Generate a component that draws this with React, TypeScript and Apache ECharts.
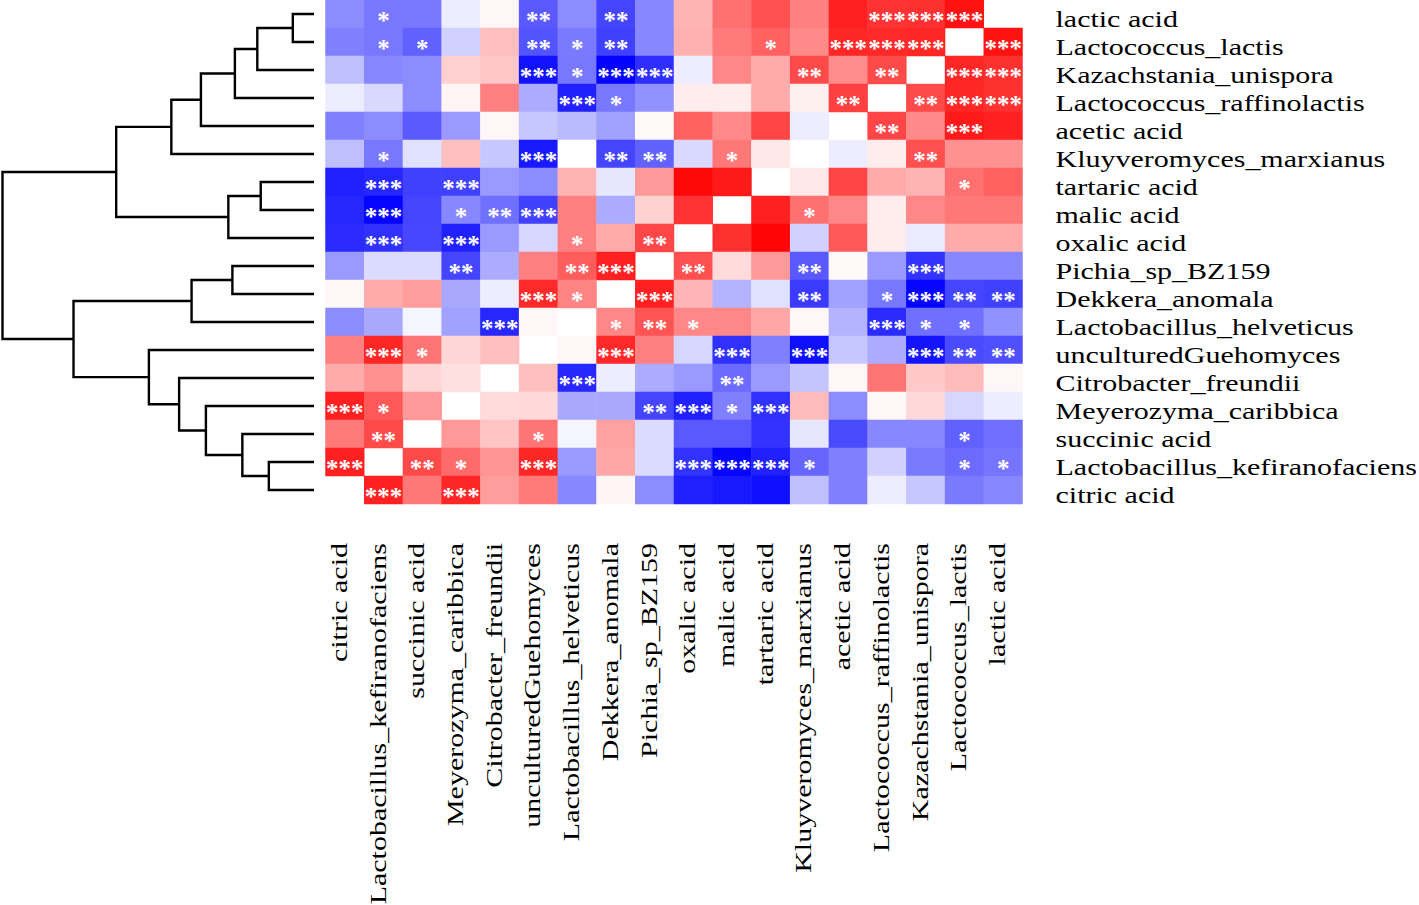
import React, { useEffect, useRef } from "react";
import * as echarts from "echarts";

const rowLabels = [
  "lactic acid",
  "Lactococcus_lactis",
  "Kazachstania_unispora",
  "Lactococcus_raffinolactis",
  "acetic acid",
  "Kluyveromyces_marxianus",
  "tartaric acid",
  "malic acid",
  "oxalic acid",
  "Pichia_sp_BZ159",
  "Dekkera_anomala",
  "Lactobacillus_helveticus",
  "unculturedGuehomyces",
  "Citrobacter_freundii",
  "Meyerozyma_caribbica",
  "succinic acid",
  "Lactobacillus_kefiranofaciens",
  "citric acid",
];

const colLabels = [
  "citric acid",
  "Lactobacillus_kefiranofaciens",
  "succinic acid",
  "Meyerozyma_caribbica",
  "Citrobacter_freundii",
  "unculturedGuehomyces",
  "Lactobacillus_helveticus",
  "Dekkera_anomala",
  "Pichia_sp_BZ159",
  "oxalic acid",
  "malic acid",
  "tartaric acid",
  "Kluyveromyces_marxianus",
  "acetic acid",
  "Lactococcus_raffinolactis",
  "Kazachstania_unispora",
  "Lactococcus_lactis",
  "lactic acid",
];

// correlation values, one array per row (null = diagonal, left blank)
const corr: (number | null)[][] = [
  [-0.45, -0.53, -0.53, -0.07, 0.03, -0.65, -0.45, -0.73, -0.47, 0.30, 0.56, 0.69, 0.50, 0.87, 0.80, 0.81, 0.93, null],
  [-0.50, -0.53, -0.62, -0.18, 0.25, -0.67, -0.52, -0.75, -0.47, 0.31, 0.52, 0.62, 0.46, 0.85, 0.84, 0.85, null, 0.93],
  [-0.25, -0.47, -0.45, 0.18, 0.22, -0.93, -0.53, -0.99, -0.82, -0.07, 0.47, 0.33, 0.71, 0.45, 0.71, null, 0.85, 0.81],
  [-0.07, -0.15, -0.45, 0.04, 0.50, -0.33, -0.87, -0.53, -0.43, 0.07, 0.07, 0.33, 0.06, 0.75, null, 0.71, 0.85, 0.81],
  [-0.50, -0.45, -0.65, -0.40, 0.03, -0.22, -0.27, -0.37, 0.02, 0.62, 0.46, 0.73, -0.07, null, 0.73, 0.46, 0.90, 0.87],
  [-0.25, -0.53, -0.12, 0.25, -0.22, -0.90, 0.00, -0.73, -0.62, -0.15, 0.53, 0.09, null, -0.07, 0.07, 0.69, 0.43, 0.43],
  [-0.88, -0.85, -0.75, -0.75, -0.40, -0.45, 0.30, -0.10, 0.40, 0.97, 0.90, null, 0.09, 0.73, 0.33, 0.30, 0.56, 0.62],
  [-0.85, -0.98, -0.73, -0.47, -0.56, -0.75, 0.50, -0.33, 0.18, 0.80, null, 0.87, 0.56, 0.47, 0.07, 0.47, 0.53, 0.53],
  [-0.83, -0.81, -0.72, -0.87, -0.40, -0.16, 0.50, 0.33, 0.72, null, 0.81, 0.98, -0.18, 0.65, 0.07, -0.08, 0.33, 0.33],
  [-0.40, -0.14, -0.14, -0.73, -0.33, 0.50, 0.64, 0.87, null, 0.69, 0.14, 0.40, -0.65, 0.02, -0.40, -0.80, -0.47, -0.47],
  [0.03, 0.33, 0.39, -0.34, -0.07, 0.84, 0.48, null, 0.87, 0.29, -0.30, -0.12, -0.77, -0.37, -0.53, -0.98, -0.73, -0.75],
  [-0.45, -0.34, -0.04, -0.37, -0.85, 0.03, null, 0.47, 0.67, 0.47, 0.47, 0.35, 0.03, -0.30, -0.83, -0.56, -0.56, -0.43],
  [0.50, 0.85, 0.54, 0.16, 0.25, null, 0.03, 0.84, 0.50, -0.16, -0.81, -0.50, -0.94, -0.22, -0.33, -0.92, -0.71, -0.69],
  [0.33, 0.43, 0.16, 0.12, null, 0.25, -0.85, -0.07, -0.33, -0.40, -0.58, -0.40, -0.23, 0.03, 0.54, 0.21, 0.27, 0.03],
  [0.87, 0.65, 0.40, null, 0.14, 0.15, -0.34, -0.34, -0.73, -0.87, -0.50, -0.81, 0.27, -0.45, 0.03, 0.15, -0.16, -0.07],
  [0.52, 0.71, null, 0.40, 0.23, 0.54, -0.04, 0.37, -0.14, -0.65, -0.65, -0.80, -0.10, -0.71, -0.47, -0.47, -0.62, -0.56],
  [0.87, null, 0.71, 0.58, 0.42, 0.85, -0.40, 0.35, -0.14, -0.80, -0.98, -0.87, -0.60, -0.50, -0.18, -0.52, -0.58, -0.54],
  [null, 0.87, 0.53, 0.85, 0.39, 0.52, -0.47, 0.04, -0.45, -0.88, -0.90, -0.94, -0.25, -0.50, -0.07, -0.22, -0.52, -0.47],
];

// significance level per cell: 0 none, 1 "*", 2 "**", 3 "***"
const stars: number[][] = [
  [0, 1, 0, 0, 0, 2, 0, 2, 0, 0, 0, 0, 0, 0, 3, 3, 3, 0],
  [0, 1, 1, 0, 0, 2, 1, 2, 0, 0, 0, 1, 0, 3, 3, 3, 0, 3],
  [0, 0, 0, 0, 0, 3, 1, 3, 3, 0, 0, 0, 2, 0, 2, 0, 3, 3],
  [0, 0, 0, 0, 0, 0, 3, 1, 0, 0, 0, 0, 0, 2, 0, 2, 3, 3],
  [0, 0, 0, 0, 0, 0, 0, 0, 0, 0, 0, 0, 0, 0, 2, 0, 3, 0],
  [0, 1, 0, 0, 0, 3, 0, 2, 2, 0, 1, 0, 0, 0, 0, 2, 0, 0],
  [0, 3, 0, 3, 0, 0, 0, 0, 0, 0, 0, 0, 0, 0, 0, 0, 1, 0],
  [0, 3, 0, 1, 2, 3, 0, 0, 0, 0, 0, 0, 1, 0, 0, 0, 0, 0],
  [0, 3, 0, 3, 0, 0, 1, 0, 2, 0, 0, 0, 0, 0, 0, 0, 0, 0],
  [0, 0, 0, 2, 0, 0, 2, 3, 0, 2, 0, 0, 2, 0, 0, 3, 0, 0],
  [0, 0, 0, 0, 0, 3, 1, 0, 3, 0, 0, 0, 2, 0, 1, 3, 2, 2],
  [0, 0, 0, 0, 3, 0, 0, 1, 2, 1, 0, 0, 0, 0, 3, 1, 1, 0],
  [0, 3, 1, 0, 0, 0, 0, 3, 0, 0, 3, 0, 3, 0, 0, 3, 2, 2],
  [0, 0, 0, 0, 0, 0, 3, 0, 0, 0, 2, 0, 0, 0, 0, 0, 0, 0],
  [3, 1, 0, 0, 0, 0, 0, 0, 2, 3, 1, 3, 0, 0, 0, 0, 0, 0],
  [0, 2, 0, 0, 0, 1, 0, 0, 0, 0, 0, 0, 0, 0, 0, 0, 1, 0],
  [3, 0, 2, 1, 0, 3, 0, 0, 0, 3, 3, 3, 1, 0, 0, 0, 1, 1],
  [0, 3, 0, 3, 0, 0, 0, 0, 0, 0, 0, 0, 0, 0, 0, 0, 0, 0],
];

// row dendrogram: [childA, childB, height]; leaves are 0..17, merge k gets id 18+k
const merges: [number, number, number][] = [
  [0, 1, 0.068],
  [18, 2, 0.182],
  [19, 3, 0.254],
  [20, 4, 0.363],
  [21, 5, 0.458],
  [6, 7, 0.171],
  [23, 8, 0.275],
  [22, 24, 0.635],
  [9, 10, 0.262],
  [26, 11, 0.393],
  [16, 17, 0.145],
  [15, 28, 0.23],
  [14, 29, 0.347],
  [13, 30, 0.433],
  [12, 31, 0.53],
  [27, 32, 0.772],
  [25, 33, 1.0],
];

const FONT = "'Liberation Serif', 'Times New Roman', serif";

export default function App() {
  const ref = useRef<HTMLDivElement>(null);

  useEffect(() => {
    if (!ref.current) return;
    const chart = echarts.init(ref.current, null, { renderer: "svg" });

    const nLeaves = rowLabels.length;
    const nodeY: number[] = [];
    const nodeH: number[] = [];
    for (let i = 0; i < nLeaves; i++) {
      nodeY.push(i);
      nodeH.push(0);
    }
    merges.forEach(([a, b, h]) => {
      nodeY.push((nodeY[a] + nodeY[b]) / 2);
      nodeH.push(h);
    });

    const heatData: any[] = [];
    corr.forEach((row, r) => {
      row.forEach((v, c) => {
        if (v === null) return;
        heatData.push([c, r, v]);
      });
    });

    const option: any = {
      animation: false,
      backgroundColor: "#ffffff",
      grid: [
        { left: 325.5, top: 0, width: 697, height: 504, containLabel: false },
        { left: 2.5, top: 0, width: 311.5, height: 504, containLabel: false },
      ],
      xAxis: [
        {
          type: "category",
          gridIndex: 0,
          data: colLabels,
          position: "bottom",
          axisLine: { show: false },
          axisTick: { show: false },
          splitLine: { show: false },
          axisLabel: { show: false },
        },
        {
          type: "value",
          gridIndex: 1,
          min: 0,
          max: 1,
          inverse: true,
          show: false,
        },
      ],
      yAxis: [
        {
          type: "category",
          gridIndex: 0,
          data: rowLabels,
          inverse: true,
          position: "right",
          axisLine: { show: false },
          axisTick: { show: false },
          splitLine: { show: false },
          axisLabel: { show: false },
        },
        {
          type: "value",
          gridIndex: 1,
          min: -0.5,
          max: 17.5,
          inverse: true,
          show: false,
        },
      ],
      visualMap: {
        type: "continuous",
        show: false,
        min: -1,
        max: 1,
        dimension: 2,
        seriesIndex: 0,
        inRange: { color: ["#0000ff", "#ffffff", "#ff0000"] },
      },
      series: [
        {
          type: "heatmap",
          xAxisIndex: 0,
          yAxisIndex: 0,
          data: heatData,
          itemStyle: { borderWidth: 0 },
          emphasis: { disabled: true },
          label: {
            show: true,
            color: "#ffffff",
            fontFamily: FONT,
            fontSize: 25,
            fontWeight: "bold",
            offset: [0, 6],
            formatter: (p: any) => {
              const n = stars[p.value[1]][p.value[0]];
              return n > 0 ? "*".repeat(n) : "";
            },
          },
        },
        {
          type: "custom",
          xAxisIndex: 1,
          yAxisIndex: 1,
          clip: false,
          data: merges.map((m, i) => [m[2], nodeY[nLeaves + i]]),
          renderItem: (params: any, api: any) => {
            const [a, b, h] = merges[params.dataIndex];
            const pA = api.coord([nodeH[a], nodeY[a]]);
            const pMA = api.coord([h, nodeY[a]]);
            const pMB = api.coord([h, nodeY[b]]);
            const pB = api.coord([nodeH[b], nodeY[b]]);
            return {
              type: "polyline",
              shape: { points: [pA, pMA, pMB, pB] },
              style: { stroke: "#000", lineWidth: 2.4, fill: "none" },
            };
          },
        },
      ],
    };

    chart.setOption(option);

    // Axis-category labels, placed with the heatmap's own axes; the reference's
    // lettering is horizontally stretched, so the texts are scaled along their run.
    const LABEL_SIZE = 24;
    const STRETCH = 1.25;
    const p0 = chart.convertToPixel({ xAxisIndex: 0, yAxisIndex: 0 }, [0, 0]) as number[];
    const p1 = chart.convertToPixel({ xAxisIndex: 0, yAxisIndex: 0 }, [1, 1]) as number[];
    const cellW = p1[0] - p0[0];
    const cellH = p1[1] - p0[1];
    const lastCol = colLabels.length - 1;
    const lastRow = rowLabels.length - 1;
    const rightEdge =
      (chart.convertToPixel({ xAxisIndex: 0, yAxisIndex: 0 }, [lastCol, 0]) as number[])[0] + cellW / 2;
    const bottomEdge =
      (chart.convertToPixel({ xAxisIndex: 0, yAxisIndex: 0 }, [0, lastRow]) as number[])[1] + cellH / 2;

    const graphics: any[] = [];
    rowLabels.forEach((name, r) => {
      const py = (chart.convertToPixel({ xAxisIndex: 0, yAxisIndex: 0 }, [0, r]) as number[])[1];
      graphics.push({
        type: "text",
        x: rightEdge + 33,
        y: py + 5.5,
        scaleX: STRETCH,
        silent: true,
        style: {
          text: name,
          fontSize: LABEL_SIZE,
          fontFamily: FONT,
          fill: "#000",
          align: "left",
          verticalAlign: "middle",
        },
      });
    });
    colLabels.forEach((name, c) => {
      const px = (chart.convertToPixel({ xAxisIndex: 0, yAxisIndex: 0 }, [c, 0]) as number[])[0];
      graphics.push({
        type: "text",
        x: px - 6,
        y: bottomEdge + 39,
        rotation: Math.PI / 2,
        scaleX: STRETCH,
        silent: true,
        style: {
          text: name,
          fontSize: LABEL_SIZE,
          fontFamily: FONT,
          fill: "#000",
          align: "right",
          verticalAlign: "middle",
        },
      });
    });
    chart.setOption({ graphic: graphics });

    return () => chart.dispose();
  }, []);

  return (
    <div
      ref={ref}
      style={{ position: "absolute", left: 0, top: 0, width: 1419, height: 905 }}
    />
  );
}
